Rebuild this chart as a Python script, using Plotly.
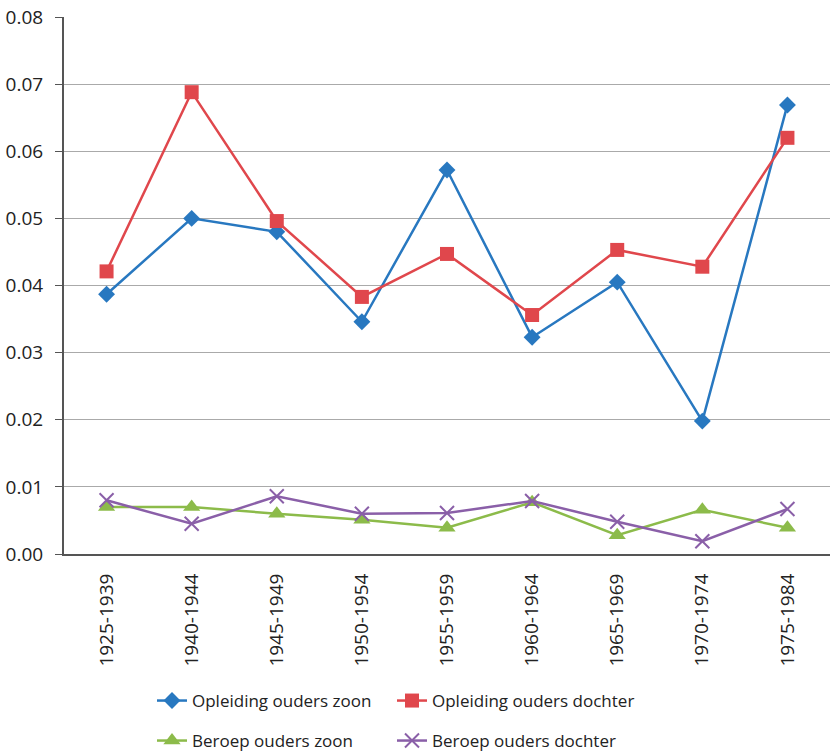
import plotly.graph_objects as go

categories = ["1925-1939", "1940-1944", "1945-1949", "1950-1954", "1955-1959",
              "1960-1964", "1965-1969", "1970-1974", "1975-1984"]
opl_zoon = [0.0387, 0.0500, 0.0480, 0.0346, 0.0572, 0.0323, 0.0405, 0.0198, 0.0669]
opl_dochter = [0.0421, 0.0688, 0.0496, 0.0383, 0.0447, 0.0356, 0.0453, 0.0428, 0.0620]
ber_zoon = [0.0070, 0.0070, 0.0060, 0.0051, 0.0039, 0.0077, 0.0028, 0.0066, 0.0039]
ber_dochter = [0.0080, 0.0045, 0.0086, 0.0060, 0.0061, 0.0079, 0.0048, 0.0019, 0.0067]
y_ticks = [0.0, 0.01, 0.02, 0.03, 0.04, 0.05, 0.06, 0.07, 0.08]

series = [
    ("Opleiding ouders zoon", opl_zoon, "#2878C0", dict(symbol="diamond", size=13), "legend"),
    ("Opleiding ouders dochter", opl_dochter, "#E0474C", dict(symbol="square", size=14), "legend2"),
    ("Beroep ouders zoon", ber_zoon, "#8CBB4A", dict(symbol="triangle-up", size=15), "legend3"),
    ("Beroep ouders dochter", ber_dochter, "#8A5FA8",
     dict(symbol="x-thin-open", size=14, line=dict(width=2, color="#8A5FA8")), "legend4"),
]

fig = go.Figure()
for name, vals, color, marker, lg in series:
    m = dict(color=color, **marker)
    fig.add_trace(go.Scatter(x=categories, y=vals, name=name, mode="lines+markers",
                             line=dict(color=color, width=2.5), marker=m, legend=lg))

# page is 752 tall; figure made slightly taller so the last legend row fits, overflow hidden
W, H = 832, 768
ML, MR, MT = 64, 2, 17
PLOT_BOTTOM = 554
MB = H - PLOT_BOTTOM
PW, PH = W - ML - MR, PLOT_BOTTOM - MT


def leg(px, py):
    return dict(x=(px - ML) / PW, y=(PLOT_BOTTOM - py) / PH,
                xanchor="left", yanchor="middle", font=dict(size=17),
                bgcolor="rgba(0,0,0,0)", borderwidth=0)


fig.update_layout(
    width=W, height=H,
    margin=dict(l=ML, r=MR, t=MT, b=MB),
    paper_bgcolor="white", plot_bgcolor="white",
    font=dict(family="Open Sans, sans-serif", size=16, color="#222"),
    showlegend=True,
    legend=leg(152, 701),
    legend2=leg(392, 701),
    legend3=leg(152, 741),
    legend4=leg(392, 741),
)
fig.update_xaxes(type="category", range=[-0.5, 8.5], tickangle=-90,
                 showline=True, linecolor="#555", linewidth=2, showgrid=False,
                 ticks="", tickfont=dict(size=19), ticklabelstandoff=10)
fig.update_yaxes(range=[0, 0.08], tickvals=y_ticks, tickformat=".2f",
                 showline=True, linecolor="#555", linewidth=2,
                 showgrid=True, gridcolor="#aaaaaa", gridwidth=1,
                 ticks="outside", ticklen=7, tickcolor="#555",
                 tickfont=dict(size=19), zeroline=False, ticklabelstandoff=8)
fig.write_html("out.html",
               post_script="document.body.style.margin='0';document.body.style.overflow='hidden';",
               config={"displayModeBar": False})
